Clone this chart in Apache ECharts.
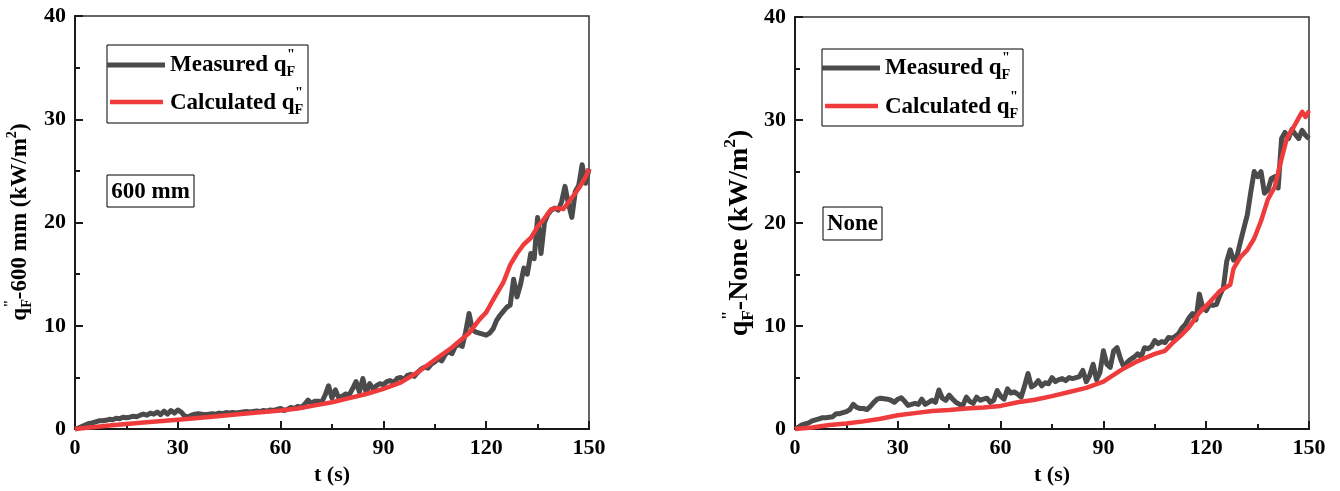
<!DOCTYPE html>
<html>
<head>
<meta charset="utf-8">
<script src="https://cdn.jsdelivr.net/npm/echarts@6/dist/echarts.min.js"></script>
<style>
html,body{margin:0;padding:0;background:#fff;}
#chart{width:1340px;height:491px;}
</style>
</head>
<body>
<div id="chart"></div>
<script>
// ---------------- DATA ----------------
const xTicks = [0, 30, 60, 90, 120, 150];
const yTicks = [0, 10, 20, 30, 40];

// measured time base: one sample per second, 0..150 s
const measuredTime = Array.from({length: 151}, (_, i) => i);

const measured600 = [
  0, 0.1, 0.25, 0.4, 0.55, 0.6, 0.7, 0.8, 0.8, 0.85, 0.95,
  0.9, 1.05, 1.0, 1.15, 1.1, 1.15, 1.25, 1.2, 1.35, 1.45,
  1.35, 1.55, 1.45, 1.65, 1.4, 1.75, 1.45, 1.8, 1.55, 1.85,
  1.65, 1.25, 1.2, 1.35, 1.45, 1.5, 1.45, 1.4, 1.45, 1.5,
  1.45, 1.55, 1.5, 1.6, 1.55, 1.6, 1.55, 1.6, 1.65, 1.7,
  1.65, 1.7, 1.75, 1.7, 1.8, 1.75, 1.85, 1.8, 1.9, 2.0,
  1.8, 1.9, 2.1, 2.0, 2.2, 2.1, 2.4, 2.8, 2.5, 2.7,
  2.7, 2.6, 3.3, 4.2, 3.0, 3.8, 3.0, 3.2, 3.4, 3.3,
  3.9, 4.6, 3.6, 4.9, 3.5, 4.4, 3.9, 4.2, 4.4, 4.3,
  4.6, 4.7, 4.5, 4.9, 5.0, 4.8, 5.2, 5.3, 5.1, 5.5,
  5.8, 6.0, 5.9, 6.3, 6.5, 6.8, 6.6, 7.2, 7.5, 7.3,
  8.0, 8.2, 8.0, 9.4, 11.2, 9.6, 9.4, 9.3, 9.2, 9.1,
  9.3, 9.7, 10.5, 11.0, 11.4, 11.8, 12.0, 14.5, 12.8, 14.0,
  15.6, 15.0, 17.0, 16.5, 20.5, 17.0, 20.0, 20.8, 21.2, 21.4,
  21.2, 22.0, 23.5, 21.8, 20.5, 23.0, 23.6, 25.6, 23.8, 25.2
];

const calcTime600 = [0, 10, 20, 30, 40, 50, 60, 65, 70, 75, 80, 85, 90, 95, 100, 105, 110, 115, 118, 120, 122, 125, 127, 129, 131, 133, 135, 137, 139, 141, 142.5, 145, 147, 149, 150];
const calc600 = [0, 0.35, 0.65, 0.9, 1.2, 1.5, 1.8, 2.0, 2.3, 2.6, 3.0, 3.4, 3.9, 4.5, 5.5, 6.7, 7.9, 9.3, 10.6, 11.3, 12.5, 14.2, 15.9, 17.0, 17.9, 18.5, 19.6, 20.4, 21.3, 21.4, 21.3, 22.4, 23.3, 24.4, 25.2];

const measuredNone = [
  0, 0.2, 0.4, 0.5, 0.6, 0.8, 0.9, 1.0, 1.1, 1.1, 1.15,
  1.2, 1.5, 1.5, 1.6, 1.7, 1.9, 2.4, 2.1, 2.0, 2.0,
  1.9, 2.2, 2.6, 2.9, 3.0, 2.95, 2.9, 2.8, 2.6, 2.9,
  3.05, 2.7, 2.3, 2.4, 2.5, 2.4, 2.9, 2.4, 2.6, 2.8,
  2.6, 3.8, 3.0, 2.8, 3.3, 2.9, 2.6, 2.4, 2.3, 3.1,
  2.7, 2.5, 3.1, 2.8, 2.9, 3.0, 2.6, 2.8, 3.75, 3.2,
  2.9, 3.9, 3.5, 3.6, 3.4, 3.1, 4.2, 5.4, 4.1, 4.3,
  4.7, 4.2, 4.5, 4.4, 5.0, 4.6, 4.8, 4.9, 4.7, 5.0,
  4.9, 5.0, 5.1, 5.7, 4.6, 5.2, 6.3, 4.8, 5.5, 7.6,
  6.3, 6.0, 7.6, 7.9, 6.8, 6.0, 6.5, 6.8, 7.0, 7.3,
  7.0, 7.9, 7.8, 8.0, 8.6, 8.3, 8.5, 8.4, 8.9, 8.8,
  9.0, 9.3, 9.85, 10.2, 10.8, 11.2, 10.6, 13.1, 11.8, 11.5,
  12.1, 12.0, 12.1, 13.0, 13.7, 16.3, 17.4, 16.4, 16.8, 18.2,
  19.5, 20.8, 23.0, 25.0, 24.5, 25.0, 22.9, 23.2, 24.3, 24.5,
  23.4, 28.2, 28.8, 28.2, 29.1, 28.6, 28.2, 29.0, 28.5, 28.2
];

const calcTimeNone = [0, 5, 10, 15, 20, 25, 30, 35, 40, 45, 50, 55, 60, 65, 70, 75, 80, 85, 90, 95, 100, 105, 108, 110, 113, 115, 118, 121, 124, 127, 128, 130, 132, 134, 136, 138, 140, 141.5, 143.5, 145.5, 147, 148, 149, 150];
const calcNone = [0, 0.15, 0.4, 0.55, 0.75, 1.0, 1.35, 1.55, 1.75, 1.85, 2.0, 2.1, 2.25, 2.6, 2.85, 3.2, 3.6, 4.0, 4.6, 5.7, 6.6, 7.3, 7.6, 8.3, 9.2, 9.9, 11.3, 12.3, 13.4, 14.0, 15.6, 16.7, 17.4, 18.5, 20.2, 22.3, 23.5, 25.6, 28.2, 29.3, 30.2, 30.8, 30.3, 30.9];

// ---------------- STYLE ----------------
const FONT = '"Liberation Serif", "Times New Roman", serif';
const GRAY = '#4b4b4b';
const RED = '#ef3b3b';

const canvas = document.createElement('canvas');
const ctx2 = canvas.getContext('2d');
function measure(text, font) { ctx2.font = font; return ctx2.measureText(text).width; }
function fontOf(size) { return 'bold ' + size + 'px ' + FONT; }

// build composite text (with stacked super/sub scripts) as graphic children
function composite(parts, size, z) {
  let x = 0; const kids = [];
  const mk = (text, fs, dx, dy) => ({
    type: 'text', x: dx, y: dy, z: z || 0,
    style: { text: text, font: fontOf(fs), fill: '#000', align: 'left', verticalAlign: 'middle', textAlign: 'left', textVerticalAlign: 'middle' }
  });
  parts.forEach(p => {
    if (p.stack) {
      let w = 0;
      p.stack.forEach(s => {
        const fs = size * s.scale;
        kids.push(mk(s.text, fs, x + (s.dx || 0) * size, s.dy * size));
        w = Math.max(w, measure(s.text, fontOf(fs)));
      });
      x += w;
    } else {
      const fs = size * (p.scale || 1);
      kids.push(mk(p.text, fs, x, (p.dy || 0) * size));
      x += measure(p.text, fontOf(fs));
    }
  });
  return { kids: kids, width: x };
}
function qF() {
  return [
    { text: 'q' },
    { stack: [ { text: '"', scale: 0.62, dy: -0.42, dx: 0.02 }, { text: 'F', scale: 0.62, dy: 0.3 } ] }
  ];
}
function yLabel(tail, size, cx, cy) {
  const parts = qF().concat([
    { text: tail + ' (kW/m' },
    { text: '2', scale: 0.62, dy: -0.35 },
    { text: ')' }
  ]);
  const c = composite(parts, size, 5);
  c.kids.forEach(k => { k.x -= c.width / 2; });
  return { type: 'group', x: cx, y: cy, rotation: Math.PI / 2, children: c.kids };
}
function legendGroup(box, line1y, line2y, lx1, lx2, tx) {
  const els = [];
  els.push({ type: 'rect', shape: { x: box[0], y: box[1], width: box[2] - box[0], height: box[3] - box[1] },
             style: { fill: '#fff', stroke: '#000', lineWidth: 1 }, z: 10 });
  els.push({ type: 'line', shape: { x1: lx1, y1: line1y, x2: lx2, y2: line1y }, style: { stroke: GRAY, lineWidth: 5 }, z: 11 });
  els.push({ type: 'line', shape: { x1: lx1 + 3, y1: line2y, x2: lx2 - 2, y2: line2y }, style: { stroke: RED, lineWidth: 4.5 }, z: 11 });
  const a = composite([{ text: 'Measured ' }].concat(qF()), 23, 12);
  els.push({ type: 'group', x: tx, y: line1y, children: a.kids });
  const b = composite([{ text: 'Calculated ' }].concat(qF()), 23, 12);
  els.push({ type: 'group', x: tx, y: line2y + 1, children: b.kids });
  return els;
}
function tagBox(box, text) {
  return [
    { type: 'rect', shape: { x: box[0], y: box[1], width: box[2] - box[0], height: box[3] - box[1] },
      style: { fill: '#fff', stroke: '#000', lineWidth: 1 }, z: 10 },
    { type: 'text', x: (box[0] + box[2]) / 2, y: (box[1] + box[3]) / 2 + 1,
      style: { text: text, font: fontOf(23), fill: '#000', align: 'center', verticalAlign: 'middle', textAlign: 'center', textVerticalAlign: 'middle' }, z: 11 }
  ];
}

function xAxisCfg(gi) {
  return {
    type: 'value', gridIndex: gi, min: xTicks[0], max: xTicks[xTicks.length - 1], interval: xTicks[1] - xTicks[0],
    name: 't (s)', nameLocation: 'middle', nameGap: 30,
    nameTextStyle: { fontFamily: FONT, fontWeight: 'bold', fontSize: 22, color: '#000' },
    axisLine: { show: true, lineStyle: { color: '#1a1a1a', width: 2 } },
    axisTick: { show: true, inside: true, length: 8, lineStyle: { color: '#1a1a1a', width: 2 } },
    minorTick: { show: true, splitNumber: 2, length: 5, lineStyle: { color: '#1a1a1a', width: 2 } },
    axisLabel: { fontFamily: FONT, fontWeight: 'bold', fontSize: 22, color: '#000', margin: 8 },
    splitLine: { show: false }
  };
}
function yAxisCfg(gi) {
  return {
    type: 'value', gridIndex: gi, min: yTicks[0], max: yTicks[yTicks.length - 1], interval: yTicks[1] - yTicks[0],
    axisLine: { show: true, lineStyle: { color: '#1a1a1a', width: 2 } },
    axisTick: { show: true, inside: true, length: 8, lineStyle: { color: '#1a1a1a', width: 2 } },
    minorTick: { show: true, splitNumber: 2, length: 5, lineStyle: { color: '#1a1a1a', width: 2 } },
    axisLabel: { fontFamily: FONT, fontWeight: 'bold', fontSize: 22, color: '#000', margin: 9 },
    splitLine: { show: false }
  };
}
function pairs(xs, ys) { return ys.map((v, i) => [xs[i], v]); }
function lineSeries(gi, name, data, color, w, z) {
  return { type: 'line', name: name, xAxisIndex: gi, yAxisIndex: gi, data: data, showSymbol: false, symbol: 'none',
           smooth: false, lineStyle: { color: color, width: w, join: 'round' }, itemStyle: { color: color }, z: z, clip: false };
}

const chart = echarts.init(document.getElementById('chart'), null, { renderer: 'canvas' });
chart.setOption({
  animation: false,
  backgroundColor: '#fff',
  grid: [
    { left: 75, right: 751, top: 16, bottom: 60, show: true, borderColor: '#333', borderWidth: 1.5, backgroundColor: 'transparent' },
    { left: 795, right: 31, top: 17, bottom: 59, show: true, borderColor: '#333', borderWidth: 1.5, backgroundColor: 'transparent' }
  ],
  xAxis: [xAxisCfg(0), xAxisCfg(1)],
  yAxis: [yAxisCfg(0), yAxisCfg(1)],
  series: [
    lineSeries(0, 'Measured q"F', pairs(measuredTime, measured600), GRAY, 5, 2),
    lineSeries(0, 'Calculated q"F', pairs(calcTime600, calc600), RED, 4.5, 3),
    lineSeries(1, 'Measured q"F', pairs(measuredTime, measuredNone), GRAY, 5, 2),
    lineSeries(1, 'Calculated q"F', pairs(calcTimeNone, calcNone), RED, 4.5, 3)
  ],
  graphic: [
    yLabel('-600 mm', 23, 20, 222),
    yLabel('-None', 28, 740, 233)
  ].concat(
    legendGroup([107, 45, 308, 123], 65, 102, 107, 165, 170),
    legendGroup([822, 49, 1023, 126], 68, 106, 822, 880, 885),
    tagBox([107, 175, 194, 207], '600 mm'),
    tagBox([823, 207, 882, 240], 'None')
  )
});
</script>
</body>
</html>
